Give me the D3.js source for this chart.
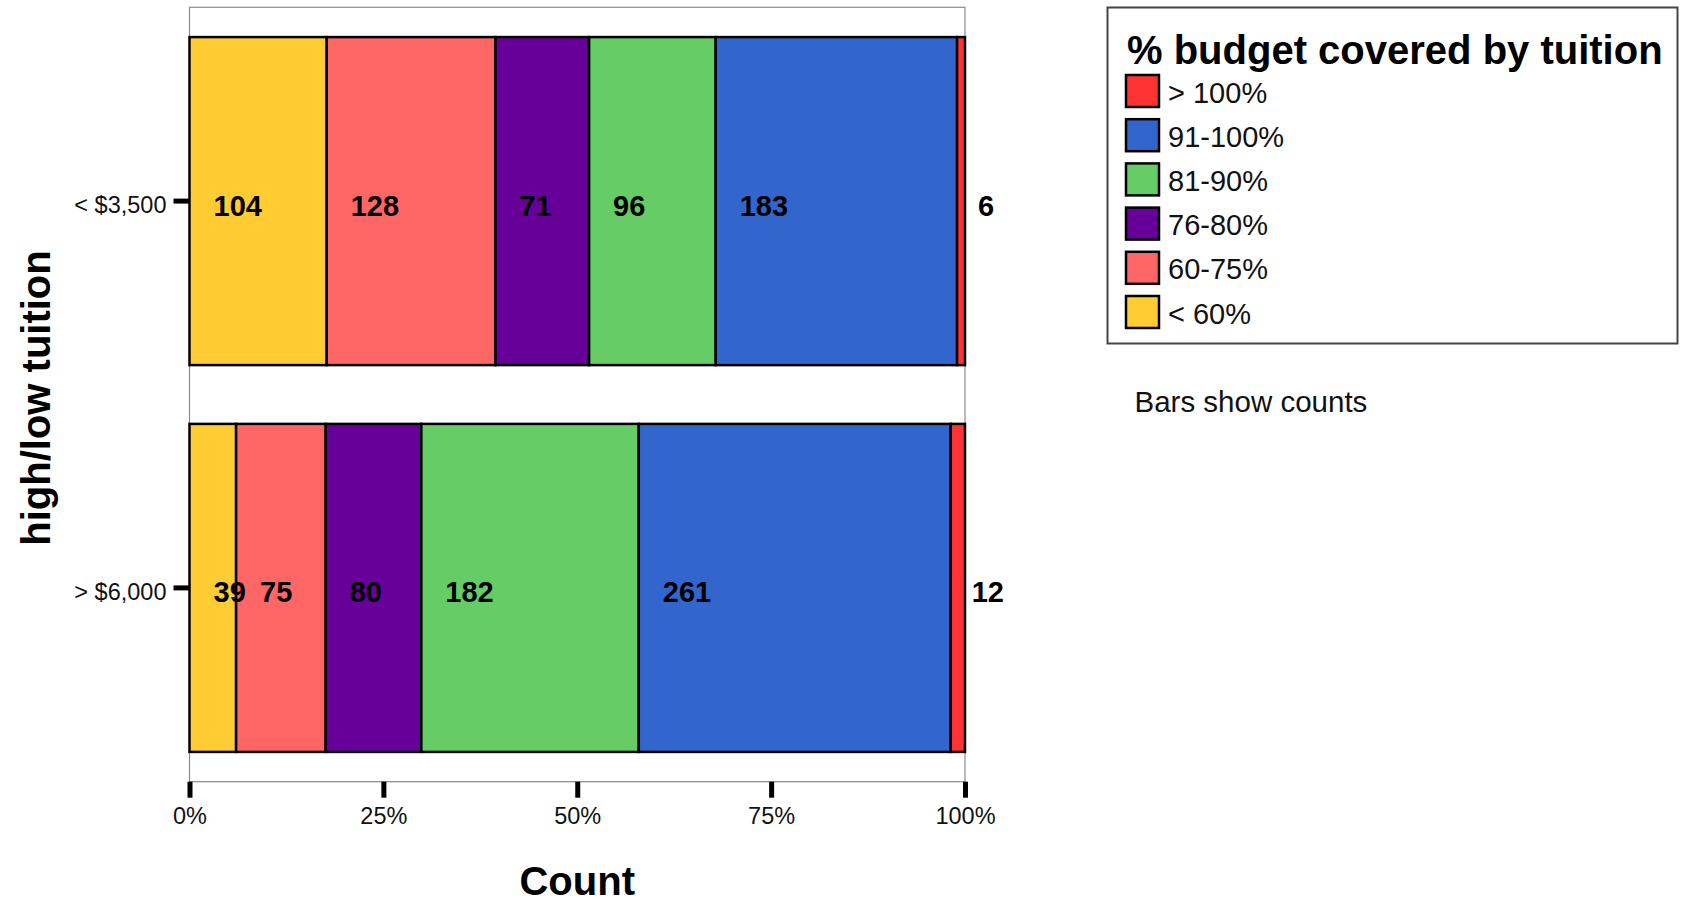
<!DOCTYPE html>
<html>
<head>
<meta charset="utf-8">
<script src="https://cdn.jsdelivr.net/npm/d3@7"></script>
<style>
  html, body { margin: 0; padding: 0; background: #fff; }
  svg { display: block; font-family: "Liberation Sans", Arial, sans-serif; }
</style>
</head>
<body>
<script>
// ---- data ----
const categories = ["< $3,500", "> $6,000"];
const seriesNames = ["< 60%", "60-75%", "76-80%", "81-90%", "91-100%", "> 100%"];
const seriesColors = ["#ffcc33", "#ff6666", "#660099", "#66cc66", "#3366cc", "#ff3333"];
const countsLow  = [104, 128, 71, 96, 183, 6];
const countsHigh = [39, 75, 80, 182, 261, 12];
const xTicks = [0, 0.25, 0.5, 0.75, 1];
const legendTitle = "% budget covered by tuition";
const legendOrder = ["> 100%", "91-100%", "81-90%", "76-80%", "60-75%", "< 60%"];
const xTitle = "Count";
const yTitle = "high/low tuition";
const note = "Bars show counts";

const W = 1683, H = 904;
const svg = d3.select("body").append("svg").attr("width", W).attr("height", H);

const plot = { left: 189.5, right: 965, top: 7.3, bottom: 781.7 };

const x = d3.scaleLinear().domain([0, 1]).range([plot.left, plot.right]);
const y = d3.scaleBand().domain(categories).range([plot.top, plot.bottom])
  .paddingInner(0.152).paddingOuter(0.077);
const color = d3.scaleOrdinal().domain(seriesNames).range(seriesColors);

const rows = [countsLow, countsHigh].map((vals, i) => {
  const total = d3.sum(vals);
  let acc = 0;
  return vals.map((v, j) => {
    const d = { cat: categories[i], series: seriesNames[j], value: v, x0: acc / total, x1: (acc + v) / total };
    acc += v;
    return d;
  });
});
const segs = rows.flat();

// frame
svg.append("rect")
  .attr("x", plot.left).attr("y", plot.top)
  .attr("width", plot.right - plot.left).attr("height", plot.bottom - plot.top)
  .attr("fill", "none").attr("stroke", "#8a8a8a").attr("stroke-width", 1.2);

// bars
svg.append("g").selectAll("rect").data(segs).join("rect")
  .attr("x", d => x(d.x0))
  .attr("y", d => y(d.cat))
  .attr("width", d => x(d.x1) - x(d.x0))
  .attr("height", y.bandwidth())
  .attr("fill", d => color(d.series))
  .attr("stroke", "#000")
  .attr("stroke-width", 2.5);

// value labels
svg.append("g").selectAll("text").data(segs).join("text")
  .attr("x", d => x(d.x0) + (d.series === "> 100%" ? 21 : 24))
  .attr("y", d => y(d.cat) + y.bandwidth() / 2 + 14.5)
  .attr("font-size", 29).attr("font-weight", "bold").attr("fill", "#000")
  .text(d => d.value);

// x axis
const xAxis = svg.append("g").attr("transform", `translate(0,${plot.bottom})`)
  .call(d3.axisBottom(x).tickValues(xTicks).tickFormat(d3.format(".0%")).tickSize(16).tickPadding(10));
xAxis.select(".domain").remove();
xAxis.selectAll(".tick line").attr("stroke", "#000").attr("stroke-width", 5);
xAxis.selectAll(".tick text").attr("font-size", 23.5).attr("fill", "#111")
  .attr("font-family", "'Liberation Sans', Arial, sans-serif");

// y axis
const yAxis = svg.append("g").attr("transform", `translate(${plot.left},0)`)
  .call(d3.axisLeft(y).tickSize(16).tickPadding(7));
yAxis.select(".domain").remove();
yAxis.selectAll(".tick line").attr("stroke", "#000").attr("stroke-width", 5);
yAxis.selectAll(".tick text").attr("font-size", 23.5).attr("fill", "#111").attr("dy", "0.5em")
  .attr("font-family", "'Liberation Sans', Arial, sans-serif");

// axis titles
svg.append("text")
  .attr("x", (plot.left + plot.right) / 2).attr("y", 894.5)
  .attr("text-anchor", "middle").attr("font-size", 40).attr("font-weight", "bold")
  .text(xTitle);
svg.append("text")
  .attr("transform", `translate(50,398) rotate(-90)`)
  .attr("text-anchor", "middle").attr("font-size", 40).attr("font-weight", "bold")
  .text(yTitle);

// legend
const lg = svg.append("g");
lg.append("rect")
  .attr("x", 1107.5).attr("y", 7.5).attr("width", 570).attr("height", 336)
  .attr("fill", "#fff").attr("stroke", "#444").attr("stroke-width", 2);
lg.append("text").attr("x", 1127).attr("y", 64)
  .attr("font-size", 40).attr("font-weight", "bold").text(legendTitle);
const items = lg.selectAll("g.item").data(legendOrder).join("g").attr("class", "item")
  .attr("transform", (d, i) => `translate(1126,${75 + i * 44.2})`);
items.append("rect").attr("width", 33).attr("height", 32)
  .attr("fill", d => color(d)).attr("stroke", "#000").attr("stroke-width", 2.5);
items.append("text").attr("x", 42).attr("y", 27.5).attr("font-size", 29).attr("fill", "#111")
  .text(d => d);

svg.append("text").attr("x", 1134.5).attr("y", 412).attr("font-size", 29.5).attr("fill", "#111")
  .text(note);
</script>
</body>
</html>
